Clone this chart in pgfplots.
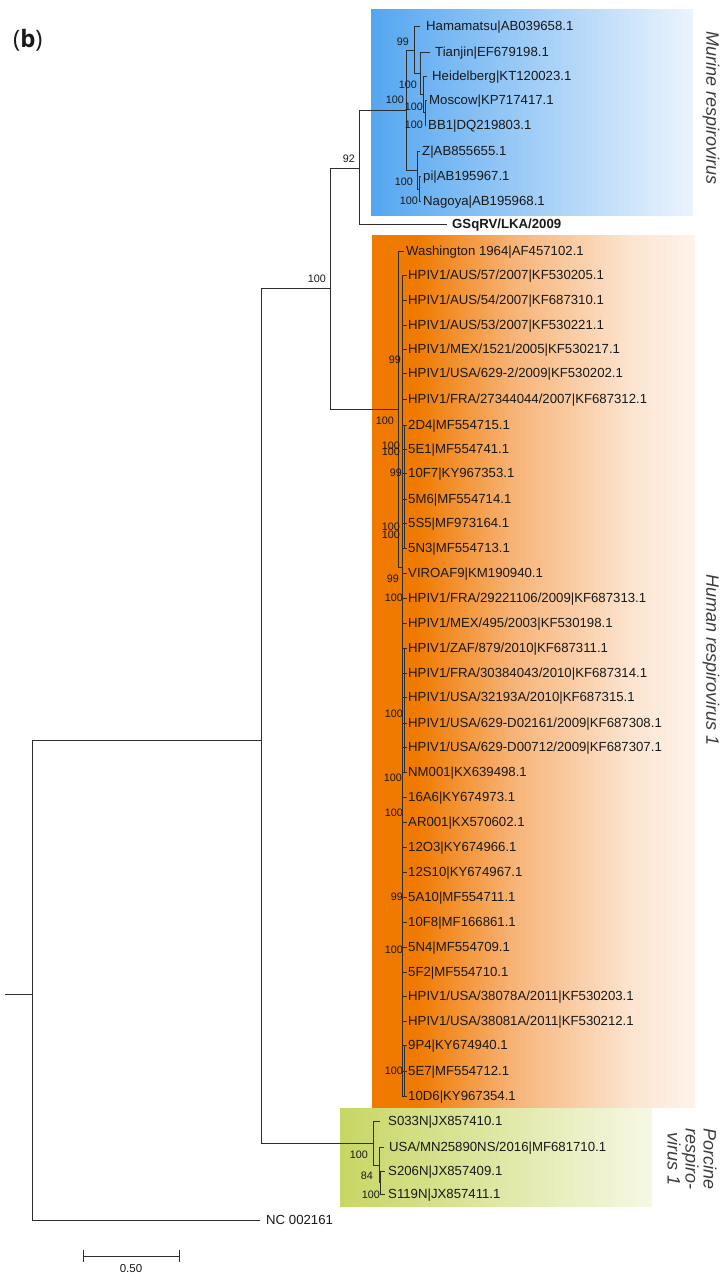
\documentclass[border=0pt]{standalone}
\usepackage{fontspec}
\setmainfont{Liberation Sans}
\newfontfamily\osans{Open Sans}
\usepackage{pgfplots}
\pgfplotsset{compat=1.18}

\definecolor{blueL}{RGB}{84,166,240}
\definecolor{blueR}{RGB}{236,244,253}
\definecolor{orgA}{RGB}{240,122,0}
\definecolor{orgB}{RGB}{247,180,120}
\definecolor{orgC}{RGB}{252,228,208}
\definecolor{orgD}{RGB}{254,243,234}
\definecolor{grnL}{RGB}{200,214,100}
\definecolor{grnR}{RGB}{246,248,228}
\definecolor{treec}{RGB}{45,45,45}
\definecolor{txt}{RGB}{25,25,25}
\definecolor{cladec}{RGB}{60,60,60}

\pgfdeclarehorizontalshading{blueshade}{100bp}{color(0bp)=(blueL); color(25bp)=(blueL); color(75bp)=(blueR); color(100bp)=(blueR)}
\pgfdeclarehorizontalshading{orangeshade}{100bp}{color(0bp)=(orgA); color(25bp)=(orgA); color(32bp)=(orgA); color(47bp)=(orgB); color(65bp)=(orgC); color(75bp)=(orgD); color(100bp)=(orgD)}
\pgfdeclarehorizontalshading{greenshade}{100bp}{color(0bp)=(grnL); color(25bp)=(grnL); color(75bp)=(grnR); color(100bp)=(grnR)}

\pgfplotsset{
  tree/.style={draw=treec, line width=1pt, no marks, unbounded coords=jump},
}
\tikzset{
  tip/.style={anchor=west, inner sep=0pt, font=\fontsize{13.2}{14}\selectfont, text=txt, text height=9.45pt, text depth=0pt},
  bs/.style={anchor=east, inner sep=0pt, font=\fontsize{10.8}{12}\selectfont, text=txt, text height=7.75pt, text depth=0pt},
  clade/.style={rotate=-90, inner sep=0pt, font=\fontsize{18}{18}\selectfont\itshape, text=cladec, align=center},
}

\begin{document}
\begin{tikzpicture}
\useasboundingbox (0,0) rectangle (726pt,1278pt);
\begin{axis}[at={(0,0)}, anchor=south west,
  width=726pt, height=1278pt, scale only axis,
  xmin=0, xmax=726, ymin=0, ymax=1278, y dir=reverse,
  hide axis, clip=false]

% clade backgrounds
\addplot[draw=none, shade, shading=blueshade] coordinates {(371,9) (693,9) (693,215) (371,215)};
\addplot[draw=none, shade, shading=orangeshade] coordinates {(372,235) (695,235) (695,1107) (372,1107)};
\addplot[draw=none, shade, shading=greenshade] coordinates {(340,1108) (652,1108) (652,1206) (340,1206)};

% backbone
\addplot[tree] coordinates {(5,994) (32,994)};
\addplot[tree] coordinates {(261,740) (32,740) (32,1220) (260,1220)};
\addplot[tree] coordinates {(330,288) (261,288) (261,1143) (373,1143)};
\addplot[tree] coordinates {(359,168) (330,168) (330,409) (398,409)};
\addplot[tree] coordinates {(406,110) (359,110) (359,224) (447,224)};

% Murine
\addplot[tree] coordinates {(414,50) (406,50) (406,170) (417,170)};
\addplot[tree] coordinates {(420,26) (414,26) (414,73) (420,73)};
\addplot[tree] coordinates {(430,52) (420,52) (420,94) (423,94)};
\addplot[tree] coordinates {(427,76) (423,76) (423,112) (425,112)};
\addplot[tree] coordinates {(427,100) (425,100) (425,125) (426,125)};
\addplot[tree] coordinates {(420,151) (417,151) (417,189) (419,189)};
\addplot[tree] coordinates {(421,176) (419,176) (419,201) (421,201)};

% Human
\addplot[tree] coordinates {(404,251) (398,251) (398,567) (402,567)};
\addplot[tree] coordinates {(402,275) (402,1096)};
\addplot[tree] coordinates {(404,425) (404,548) (nan,nan) (404,648) (404,772) (nan,nan) (404,1045) (404,1096)};
\addplot[tree] coordinates {
 (402,275) (406.5,275) (nan,nan) (402,300) (406.5,300) (nan,nan) (402,325) (406.5,325) (nan,nan)
 (402,349) (406.5,349) (nan,nan) (402,373) (406.5,373) (nan,nan) (402,399) (406.5,399) (nan,nan)
 (402,425) (406.5,425) (nan,nan) (402,449) (406.5,449) (nan,nan) (402,473) (406.5,473) (nan,nan)
 (402,499) (406.5,499) (nan,nan) (402,523) (406.5,523) (nan,nan) (402,548) (406.5,548) (nan,nan)
 (402,573) (406.5,573) (nan,nan) (402,598) (406.5,598) (nan,nan) (402,623) (406.5,623) (nan,nan)
 (402,648) (406.5,648) (nan,nan) (402,673) (406.5,673) (nan,nan) (402,697) (406.5,697) (nan,nan)
 (402,723) (406.5,723) (nan,nan) (402,747) (406.5,747) (nan,nan) (402,772) (406.5,772) (nan,nan)
 (402,797) (406.5,797) (nan,nan) (402,822) (406.5,822) (nan,nan) (402,847) (406.5,847) (nan,nan)
 (402,872) (406.5,872) (nan,nan) (402,897) (406.5,897) (nan,nan) (402,922) (406.5,922) (nan,nan)
 (402,947) (406.5,947) (nan,nan) (402,972) (406.5,972) (nan,nan) (402,996) (406.5,996) (nan,nan)
 (402,1021) (406.5,1021) (nan,nan) (402,1045) (406.5,1045) (nan,nan) (402,1071) (406.5,1071) (nan,nan)
 (402,1096) (406.5,1096)};

% Porcine
\addplot[tree] coordinates {(380,1121) (373,1121) (373,1165) (379,1165)};
\addplot[tree] coordinates {(384,1147) (379,1147) (379,1182) (380,1182)};
\addplot[tree] coordinates {(385,1171) (380,1171) (380,1194) (385,1194)};

% scale bar
\addplot[tree] coordinates {(83,1256) (179,1256)};
\addplot[tree] coordinates {(83,1250) (83,1262) (nan,nan) (179,1250) (179,1262)};

% tip labels: Murine
\node[tip] at (axis cs:426,26) {Hamamatsu|AB039658.1};
\node[tip] at (axis cs:435,52) {Tianjin|EF679198.1};
\node[tip] at (axis cs:432,76) {Heidelberg|KT120023.1};
\node[tip] at (axis cs:429,100) {Moscow|KP717417.1};
\node[tip] at (axis cs:428,125) {BB1|DQ219803.1};
\node[tip] at (axis cs:422,151) {Z|AB855655.1};
\node[tip] at (axis cs:423,176) {pi|AB195967.1};
\node[tip] at (axis cs:423,201) {Nagoya|AB195968.1};
\node[tip, font=\fontsize{13.2}{14}\selectfont\bfseries] at (axis cs:452,224) {GSqRV/LKA/2009};

% tip labels: Human
\node[tip] at (axis cs:406,251) {Washington 1964|AF457102.1};
\node[tip] at (axis cs:408,275) {HPIV1/AUS/57/2007|KF530205.1};
\node[tip] at (axis cs:408,300) {HPIV1/AUS/54/2007|KF687310.1};
\node[tip] at (axis cs:408,325) {HPIV1/AUS/53/2007|KF530221.1};
\node[tip] at (axis cs:408,349) {HPIV1/MEX/1521/2005|KF530217.1};
\node[tip] at (axis cs:408,373) {HPIV1/USA/629-2/2009|KF530202.1};
\node[tip] at (axis cs:408,399) {HPIV1/FRA/27344044/2007|KF687312.1};
\node[tip] at (axis cs:408,425) {2D4|MF554715.1};
\node[tip] at (axis cs:408,449) {5E1|MF554741.1};
\node[tip] at (axis cs:408,473) {10F7|KY967353.1};
\node[tip] at (axis cs:408,499) {5M6|MF554714.1};
\node[tip] at (axis cs:408,523) {5S5|MF973164.1};
\node[tip] at (axis cs:408,548) {5N3|MF554713.1};
\node[tip] at (axis cs:408,573) {VIROAF9|KM190940.1};
\node[tip] at (axis cs:408,598) {HPIV1/FRA/29221106/2009|KF687313.1};
\node[tip] at (axis cs:408,623) {HPIV1/MEX/495/2003|KF530198.1};
\node[tip] at (axis cs:408,648) {HPIV1/ZAF/879/2010|KF687311.1};
\node[tip] at (axis cs:408,673) {HPIV1/FRA/30384043/2010|KF687314.1};
\node[tip] at (axis cs:408,697) {HPIV1/USA/32193A/2010|KF687315.1};
\node[tip] at (axis cs:408,723) {HPIV1/USA/629-D02161/2009|KF687308.1};
\node[tip] at (axis cs:408,747) {HPIV1/USA/629-D00712/2009|KF687307.1};
\node[tip] at (axis cs:408,772) {NM001|KX639498.1};
\node[tip] at (axis cs:408,797) {16A6|KY674973.1};
\node[tip] at (axis cs:408,822) {AR001|KX570602.1};
\node[tip] at (axis cs:408,847) {12O3|KY674966.1};
\node[tip] at (axis cs:408,872) {12S10|KY674967.1};
\node[tip] at (axis cs:408,897) {5A10|MF554711.1};
\node[tip] at (axis cs:408,922) {10F8|MF166861.1};
\node[tip] at (axis cs:408,947) {5N4|MF554709.1};
\node[tip] at (axis cs:408,972) {5F2|MF554710.1};
\node[tip] at (axis cs:408,996) {HPIV1/USA/38078A/2011|KF530203.1};
\node[tip] at (axis cs:408,1021) {HPIV1/USA/38081A/2011|KF530212.1};
\node[tip] at (axis cs:408,1045) {9P4|KY674940.1};
\node[tip] at (axis cs:408,1071) {5E7|MF554712.1};
\node[tip] at (axis cs:408,1096) {10D6|KY967354.1};

% tip labels: Porcine and outgroup
\node[tip] at (axis cs:388,1121) {S033N|JX857410.1};
\node[tip] at (axis cs:389,1147) {USA/MN25890NS/2016|MF681710.1};
\node[tip] at (axis cs:388,1171) {S206N|JX857409.1};
\node[tip] at (axis cs:388,1194) {S119N|JX857411.1};
\node[tip] at (axis cs:266,1220) {NC 002161};

% bootstrap values
\node[bs] at (axis cs:409,42) {99};
\node[bs] at (axis cs:417,85) {100};
\node[bs] at (axis cs:404,100) {100};
\node[bs] at (axis cs:423,107) {100};
\node[bs] at (axis cs:423,125) {100};
\node[bs] at (axis cs:413,182) {100};
\node[bs] at (axis cs:418,201) {100};
\node[bs] at (axis cs:355,159) {92};
\node[bs] at (axis cs:326,279) {100};
\node[bs] at (axis cs:401,360) {99};
\node[bs] at (axis cs:394,421) {100};
\node[bs] at (axis cs:400,446) {100};
\node[bs] at (axis cs:400,452) {100};
\node[bs] at (axis cs:402,473) {99};
\node[bs] at (axis cs:400,527) {100};
\node[bs] at (axis cs:400,535) {100};
\node[bs] at (axis cs:399,579) {99};
\node[bs] at (axis cs:403,598) {100};
\node[bs] at (axis cs:403,714) {100};
\node[bs] at (axis cs:402,778) {100};
\node[bs] at (axis cs:403,813) {100};
\node[bs] at (axis cs:403,897) {99};
\node[bs] at (axis cs:403,950) {100};
\node[bs] at (axis cs:403,1071) {100};
\node[bs] at (axis cs:368,1155) {100};
\node[bs] at (axis cs:373,1176) {84};
\node[bs] at (axis cs:380,1195) {100};

% scale label
\node[inner sep=0pt, font=\fontsize{11.5}{12}\selectfont, text=txt, text height=8.2pt, text depth=0pt] at (axis cs:131,1268) {0.50};

% clade names
\node[clade] at (axis cs:711,108) {Murine respirovirus};
\node[clade] at (axis cs:711,660) {Human respirovirus 1};
\node[clade] at (axis cs:692,1159) {Porcine\\respiro-\\virus 1};

% panel label
\node[anchor=west, inner sep=0pt, font=\osans\fontsize{24}{24}\selectfont, text=txt] at (axis cs:13,40) {(\textbf{b})};
\end{axis}
\end{tikzpicture}
\end{document}
